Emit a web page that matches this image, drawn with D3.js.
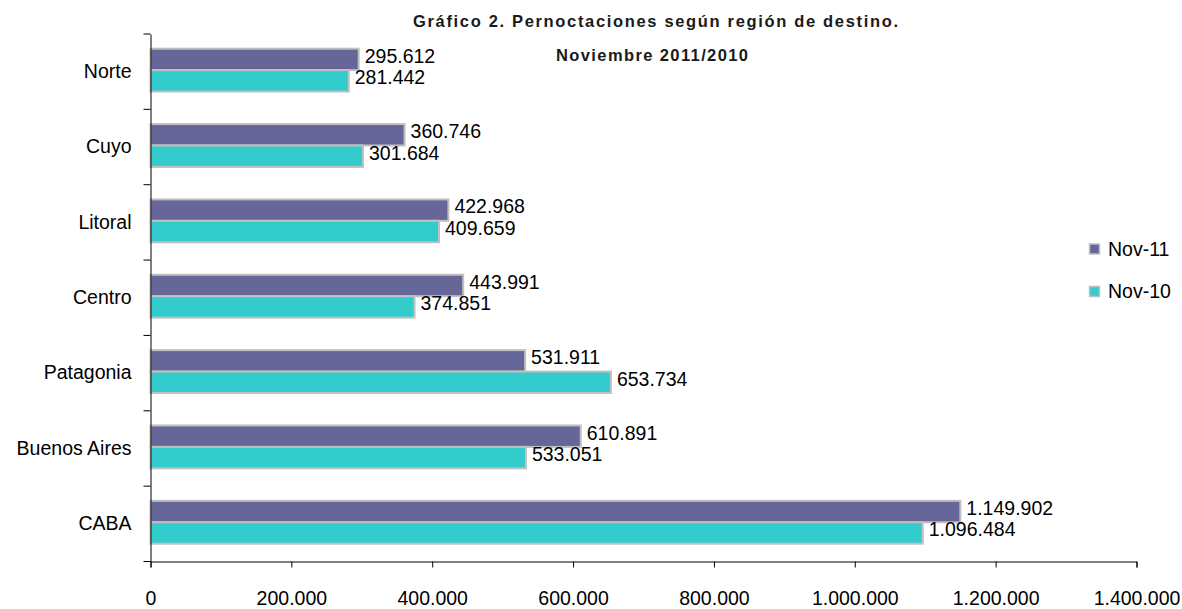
<!DOCTYPE html>
<html><head><meta charset="utf-8">
<script src="https://cdn.jsdelivr.net/npm/d3@7"></script>
<style>body{margin:0;background:#fff}text{font-family:"Liberation Sans",Arial,sans-serif}</style>
</head><body><svg id="c" width="1182" height="609"></svg>
<script>
const categories = ["Norte","Cuyo","Litoral","Centro","Patagonia","Buenos Aires","CABA"];
const nov11 = [295612,360746,422968,443991,531911,610891,1149902];
const nov10 = [281442,301684,409659,374851,653734,533051,1096484];
const seriesNames = ["Nov-11","Nov-10"];
const xTicks = [0,200000,400000,600000,800000,1000000,1200000,1400000];
const colors = ["#666699","#33CCCC"];

const svg = d3.select("#c");
const fmt = v => d3.format(",")(v).replace(/,/g,".");
const x = d3.scaleLinear().domain([0,1400000]).range([150.5,1136.5]);
const y = d3.scaleBand().domain(categories).range([34,561.5]);
const inner = d3.scaleBand().domain(seriesNames).range([14.7,y.bandwidth()-17.8]);
const FS = "19.5px";

// title
svg.append("text").attr("x",413).attr("y",27)
  .attr("textLength",485).attr("lengthAdjust","spacing")
  .style("font-size","16.5px").style("font-weight","bold").attr("fill","#1a1a1a")
  .text("Gráfico 2. Pernoctaciones según región de destino.");
svg.append("text").attr("x",556).attr("y",61)
  .attr("textLength",192).attr("lengthAdjust","spacing")
  .style("font-size","16.5px").style("font-weight","bold").attr("fill","#1a1a1a")
  .text("Noviembre 2011/2010");

const data = categories.map((c,i)=>({c, vals:[nov11[i],nov10[i]]}));
const g = svg.append("g");
data.forEach(d=>{
  d.vals.forEach((v,j)=>{
    const yy = y(d.c)+inner(seriesNames[j]);
    g.append("rect").attr("x",x(0)).attr("y",yy).attr("width",x(v)-x(0)).attr("height",inner.bandwidth())
      .attr("fill",colors[j]).attr("stroke","#c0c0c0").attr("stroke-width",2);
  });
});
data.forEach(d=>{
  d.vals.forEach((v,j)=>{
    const yy = y(d.c)+inner(seriesNames[j]);
    g.append("text").attr("x",x(v)+6).attr("y",yy+inner.bandwidth()/2-3.5).attr("dy","0.35em")
      .style("font-size",FS).attr("fill","#000").text(fmt(v));
  });
});

// axes
const xa = svg.append("g").attr("transform","translate(0,561.5)")
  .call(d3.axisBottom(x).tickValues(xTicks).tickSize(6).tickFormat(fmt));
xa.select(".domain").attr("stroke","#000");
xa.selectAll("text").style("font-size",FS).attr("y",30).attr("fill","#000");
const ya = svg.append("g").attr("transform","translate(150.5,0)")
  .call(d3.axisLeft(y).tickSize(0).tickPadding(19));
ya.select(".domain").attr("stroke","#000");
ya.selectAll("text").style("font-size",FS).attr("fill","#000");
// y tick marks at band boundaries
const bounds = categories.map(c=>y(c)).concat([y.range()[1]]);
svg.append("g").selectAll("line").data(bounds).join("line")
  .attr("x1",143.5).attr("x2",150.5).attr("y1",d=>d).attr("y2",d=>d).attr("stroke","#000");

// legend
const lg = svg.append("g");
seriesNames.forEach((s,i)=>{
  const ly = 244 + i*42.5;
  lg.append("rect").attr("x",1089.5).attr("y",ly).attr("width",10).attr("height",10)
    .attr("fill",colors[i]).attr("stroke","#c0c0c0").attr("stroke-width",1.5);
  lg.append("text").attr("x",1108).attr("y",ly+5).attr("dy","0.35em").style("font-size",FS).text(s);
});
</script></body></html>
